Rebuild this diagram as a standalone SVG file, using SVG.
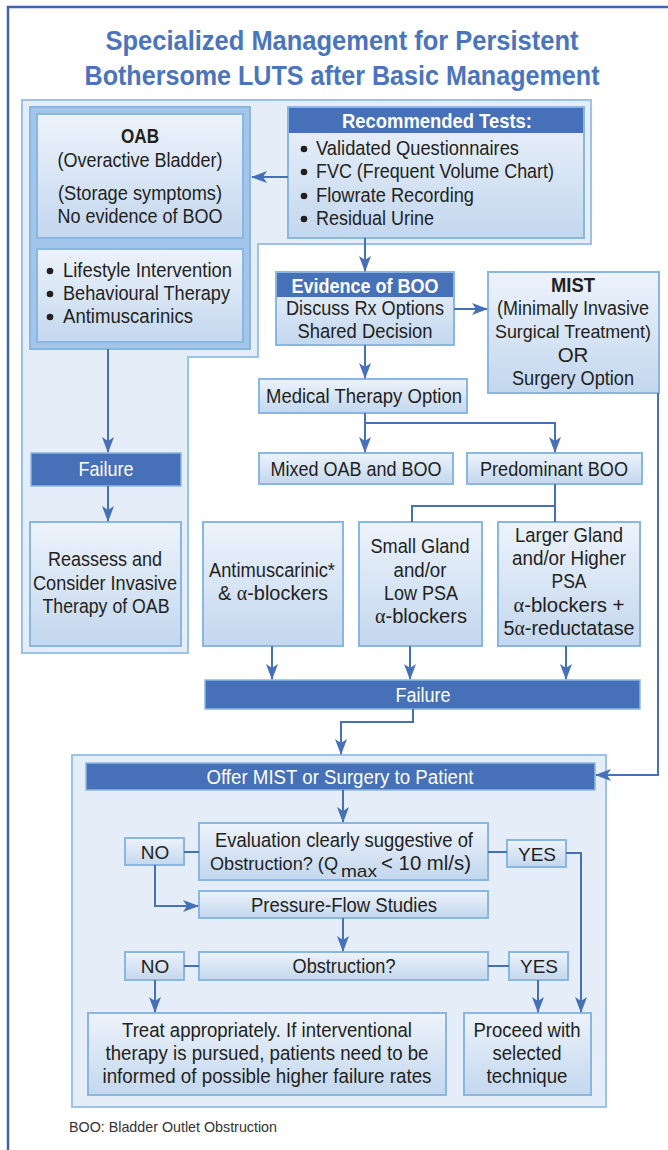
<svg xmlns="http://www.w3.org/2000/svg" width="668" height="1150" viewBox="0 0 668 1150">
<defs>
<linearGradient id="g" x1="0" y1="0" x2="0" y2="1">
<stop offset="0" stop-color="#edf3fb"/>
<stop offset="1" stop-color="#c3d7ee"/>
</linearGradient>
<marker id="ah" markerUnits="userSpaceOnUse" viewBox="0 0 16 12" markerWidth="16" markerHeight="12" refX="15" refY="6" orient="auto">
<path d="M0,0 L16,6 L0,12 L4,6 Z" fill="#4670b8"/>
</marker>
</defs>
<style>
.box{fill:url(#g);stroke:#8ab6e2;stroke-width:2}
.dark{fill:#4670b8;stroke:#8ab6e2;stroke-width:1.5}
.hdr{fill:#4670b8}
.panel{fill:#e5eef8;stroke:#9cc2e8;stroke-width:2}
.t{font-family:"Liberation Sans",Arial,sans-serif;font-size:20.5px;fill:#231f20;text-anchor:middle}
.l{text-anchor:start}
.b{font-weight:bold}
.w{fill:#ffffff}
.s{font-size:19px}
.a{font-family:"Liberation Serif",serif}
.c{fill:none;stroke:#4670b8;stroke-width:2}
.m{marker-end:url(#ah)}
</style>

<path d="M8,1150 V7 H668" fill="none" stroke="#3d66ad" stroke-width="2.5"/>

<g id="title">
<text class="t b" x="342" y="50" style="font-size:28.5px;fill:#4a74bc" textLength="473" lengthAdjust="spacingAndGlyphs">Specialized Management for Persistent</text>
<text class="t b" x="342" y="85" style="font-size:28.5px;fill:#4a74bc" textLength="515" lengthAdjust="spacingAndGlyphs">Bothersome LUTS after Basic Management</text>
</g>

<g id="panel-top">
<path class="panel" d="M22,100 H591 V244 H258 V357 H188 V653 H22 Z"/>
</g>

<g id="tests">
<rect class="box" x="288" y="107" width="296" height="131"/>
<rect class="hdr" x="289" y="108" width="294" height="25"/>
<text class="t b w" x="437" y="128" textLength="190" lengthAdjust="spacingAndGlyphs">Recommended Tests:</text>
<g fill="#231f20"><circle cx="304" cy="149" r="3.3"/><circle cx="304" cy="172" r="3.3"/><circle cx="304" cy="196" r="3.3"/><circle cx="304" cy="219" r="3.3"/></g>
<text class="t l" x="316" y="155" textLength="203" lengthAdjust="spacingAndGlyphs">Validated Questionnaires</text>
<text class="t l" x="316" y="178" textLength="238" lengthAdjust="spacingAndGlyphs">FVC (Frequent Volume Chart)</text>
<text class="t l" x="316" y="202" textLength="158" lengthAdjust="spacingAndGlyphs">Flowrate Recording</text>
<text class="t l" x="316" y="225" textLength="118" lengthAdjust="spacingAndGlyphs">Residual Urine</text>
</g>

<g id="oab">
<rect x="30" y="107" width="220" height="242" fill="#a3c5e9" stroke="#8ab6e2" stroke-width="2"/>
<rect class="box" x="37" y="114" width="206" height="124"/>
<text class="t b" x="140" y="143" textLength="38" lengthAdjust="spacingAndGlyphs">OAB</text>
<text class="t" x="140" y="167" textLength="165" lengthAdjust="spacingAndGlyphs">(Overactive Bladder)</text>
<text class="t" x="140" y="200" textLength="164" lengthAdjust="spacingAndGlyphs">(Storage symptoms)</text>
<text class="t" x="140" y="223" textLength="165" lengthAdjust="spacingAndGlyphs">No evidence of BOO</text>
</g>

<g id="oab-treatment">
<rect class="box" x="37" y="249" width="206" height="93"/>
<g fill="#231f20"><circle cx="50" cy="271" r="3.3"/><circle cx="50" cy="294" r="3.3"/><circle cx="50" cy="317" r="3.3"/></g>
<text class="t l" x="63" y="277" textLength="169" lengthAdjust="spacingAndGlyphs">Lifestyle Intervention</text>
<text class="t l" x="63" y="300" textLength="167" lengthAdjust="spacingAndGlyphs">Behavioural Therapy</text>
<text class="t l" x="63" y="323" textLength="130" lengthAdjust="spacingAndGlyphs">Antimuscarinics</text>
</g>

<g id="failure-oab">
<rect class="dark" x="31" y="453" width="150" height="33"/>
<text class="t w" x="106" y="476" textLength="55" lengthAdjust="spacingAndGlyphs">Failure</text>
</g>

<g id="reassess">
<rect class="box" x="30" y="522" width="151" height="124"/>
<text class="t" x="105" y="566" textLength="114" lengthAdjust="spacingAndGlyphs">Reassess and</text>
<text class="t" x="105" y="590" textLength="144" lengthAdjust="spacingAndGlyphs">Consider Invasive</text>
<text class="t" x="106" y="613" textLength="127" lengthAdjust="spacingAndGlyphs">Therapy of OAB</text>
</g>

<g id="evidence">
<rect class="box" x="276" y="272" width="178" height="73"/>
<rect class="hdr" x="277" y="273" width="176" height="24"/>
<text class="t b w" x="365" y="293" textLength="147" lengthAdjust="spacingAndGlyphs">Evidence of BOO</text>
<text class="t" x="365" y="315" textLength="158" lengthAdjust="spacingAndGlyphs">Discuss Rx Options</text>
<text class="t" x="365" y="338" textLength="135" lengthAdjust="spacingAndGlyphs">Shared Decision</text>
</g>

<g id="mist">
<rect class="box" x="488" y="272" width="171" height="121"/>
<text class="t b" x="573" y="292" textLength="44" lengthAdjust="spacingAndGlyphs">MIST</text>
<text class="t" x="573" y="315" style="font-size:19.5px" textLength="152" lengthAdjust="spacingAndGlyphs">(Minimally Invasive</text>
<text class="t" x="573" y="338" style="font-size:18.5px" textLength="156" lengthAdjust="spacingAndGlyphs">Surgical Treatment)</text>
<text class="t" x="573" y="362">OR</text>
<text class="t" x="573" y="385" textLength="122" lengthAdjust="spacingAndGlyphs">Surgery Option</text>
</g>

<g id="medical">
<rect class="box" x="259" y="379" width="208" height="34"/>
<text class="t" x="364" y="403" textLength="196" lengthAdjust="spacingAndGlyphs">Medical Therapy Option</text>
</g>

<g id="mixed">
<rect class="box" x="259" y="453" width="194" height="31"/>
<text class="t" x="356" y="476" textLength="171" lengthAdjust="spacingAndGlyphs">Mixed OAB and BOO</text>
</g>

<g id="predominant">
<rect class="box" x="467" y="453" width="175" height="31"/>
<text class="t" x="554" y="476" textLength="148" lengthAdjust="spacingAndGlyphs">Predominant BOO</text>
</g>

<g id="antimuscarinic">
<rect class="box" x="203" y="522" width="140" height="124"/>
<text class="t" x="272" y="577" textLength="126" lengthAdjust="spacingAndGlyphs">Antimuscarinic*</text>
<text class="t" x="273" y="600" textLength="110" lengthAdjust="spacingAndGlyphs">&amp; <tspan class="a">α</tspan>-blockers</text>
</g>

<g id="small-gland">
<rect class="box" x="359" y="522" width="123" height="124"/>
<text class="t" x="420" y="553" textLength="99" lengthAdjust="spacingAndGlyphs">Small Gland</text>
<text class="t" x="420" y="577" textLength="53" lengthAdjust="spacingAndGlyphs">and/or</text>
<text class="t" x="421" y="600" textLength="74" lengthAdjust="spacingAndGlyphs">Low PSA</text>
<text class="t" x="421" y="623" textLength="92" lengthAdjust="spacingAndGlyphs"><tspan class="a">α</tspan>-blockers</text>
</g>

<g id="larger-gland">
<rect class="box" x="498" y="522" width="142" height="124"/>
<text class="t" x="569" y="542" textLength="108" lengthAdjust="spacingAndGlyphs">Larger Gland</text>
<text class="t" x="569" y="565" textLength="114" lengthAdjust="spacingAndGlyphs">and/or Higher</text>
<text class="t" x="569" y="588" textLength="35" lengthAdjust="spacingAndGlyphs">PSA</text>
<text class="t" x="569" y="612" textLength="111" lengthAdjust="spacingAndGlyphs"><tspan class="a">α</tspan>-blockers +</text>
<text class="t" x="569" y="635" textLength="131" lengthAdjust="spacingAndGlyphs">5<tspan class="a">α</tspan>-reductatase</text>
</g>

<g id="failure-med">
<rect class="dark" x="205" y="680" width="435" height="29"/>
<text class="t w" x="423" y="702" textLength="55" lengthAdjust="spacingAndGlyphs">Failure</text>
</g>

<g id="panel-bottom">
<rect class="panel" x="72" y="755" width="534" height="352"/>
</g>

<g id="offer">
<rect class="dark" x="86" y="763" width="509" height="27"/>
<text class="t w" x="340" y="784" textLength="267" lengthAdjust="spacingAndGlyphs">Offer MIST or Surgery to Patient</text>
</g>

<g id="evaluation">
<rect class="box" x="199" y="823" width="289" height="57"/>
<text class="t" x="344" y="847" textLength="258" lengthAdjust="spacingAndGlyphs">Evaluation clearly suggestive of</text>
<text class="t l" x="210" y="870" style="font-size:18.5px" textLength="128" lengthAdjust="spacingAndGlyphs">Obstruction? (Q</text>
<text class="t l" x="341" y="877" style="font-size:17px" textLength="36" lengthAdjust="spacingAndGlyphs">max</text>
<text class="t l" x="381" y="870" textLength="90" lengthAdjust="spacingAndGlyphs">&lt; 10 ml/s)</text>
</g>

<g id="no1">
<rect class="box" x="125" y="838" width="59" height="27"/>
<text class="t s" x="155" y="859">NO</text>
</g>

<g id="yes1">
<rect class="box" x="507" y="840" width="59" height="27"/>
<text class="t s" x="537" y="861">YES</text>
</g>

<g id="pressure-flow">
<rect class="box" x="199" y="891" width="289" height="27"/>
<text class="t" x="344" y="912" textLength="186" lengthAdjust="spacingAndGlyphs">Pressure-Flow Studies</text>
</g>

<g id="obstruction">
<rect class="box" x="199" y="952" width="289" height="28"/>
<text class="t" x="344" y="973" textLength="103" lengthAdjust="spacingAndGlyphs">Obstruction?</text>
</g>

<g id="no2">
<rect class="box" x="125" y="952" width="59" height="28"/>
<text class="t s" x="155" y="973">NO</text>
</g>

<g id="yes2">
<rect class="box" x="509" y="952" width="59" height="28"/>
<text class="t s" x="539" y="973">YES</text>
</g>

<g id="treat">
<rect class="box" x="88" y="1013" width="358" height="82"/>
<text class="t" x="267" y="1037" textLength="290" lengthAdjust="spacingAndGlyphs">Treat appropriately. If interventional</text>
<text class="t" x="267" y="1060" textLength="323" lengthAdjust="spacingAndGlyphs">therapy is pursued, patients need to be</text>
<text class="t" x="267" y="1083" textLength="329" lengthAdjust="spacingAndGlyphs">informed of possible higher failure rates</text>
</g>

<g id="proceed">
<rect class="box" x="464" y="1013" width="127" height="82"/>
<text class="t" x="527" y="1037" textLength="107" lengthAdjust="spacingAndGlyphs">Proceed with</text>
<text class="t" x="527" y="1060" textLength="69" lengthAdjust="spacingAndGlyphs">selected</text>
<text class="t" x="527" y="1083" textLength="81" lengthAdjust="spacingAndGlyphs">technique</text>
</g>

<g id="connectors">
<path class="c m" d="M288,177 H252"/>
<path class="c m" d="M365,238 V271"/>
<path class="c m" d="M108,349 V452"/>
<path class="c m" d="M108,486 V521"/>
<path class="c m" d="M454,309 H487"/>
<path class="c m" d="M365,345 V378"/>
<path class="c m" d="M365,413 V452"/>
<path class="c m" d="M365,423 H555 V452"/>
<path class="c" d="M555,484 V522"/>
<path class="c" d="M555,506 H412 V522"/>
<path class="c m" d="M272,646 V679"/>
<path class="c m" d="M410,646 V679"/>
<path class="c m" d="M566,646 V679"/>
<path class="c m" d="M413,709 V722 H341 V754"/>
<path class="c m" d="M658,393 V775 H596"/>
<path class="c m" d="M343,790 V822"/>
<path class="c" d="M184,852 H199"/>
<path class="c" d="M488,852 H507"/>
<path class="c m" d="M155,865 V906 H198"/>
<path class="c m" d="M343,918 V951"/>
<path class="c" d="M184,966 H199"/>
<path class="c" d="M488,966 H509"/>
<path class="c m" d="M155,980 V1012"/>
<path class="c m" d="M538,980 V1012"/>
<path class="c m" d="M566,853 H581 V1012"/>
</g>

<g id="footer">
<text x="69" y="1132" style="font-family:'Liberation Sans',Arial,sans-serif;font-size:15px;fill:#333333" textLength="208" lengthAdjust="spacingAndGlyphs">BOO: Bladder Outlet Obstruction</text>
</g>
</svg>
